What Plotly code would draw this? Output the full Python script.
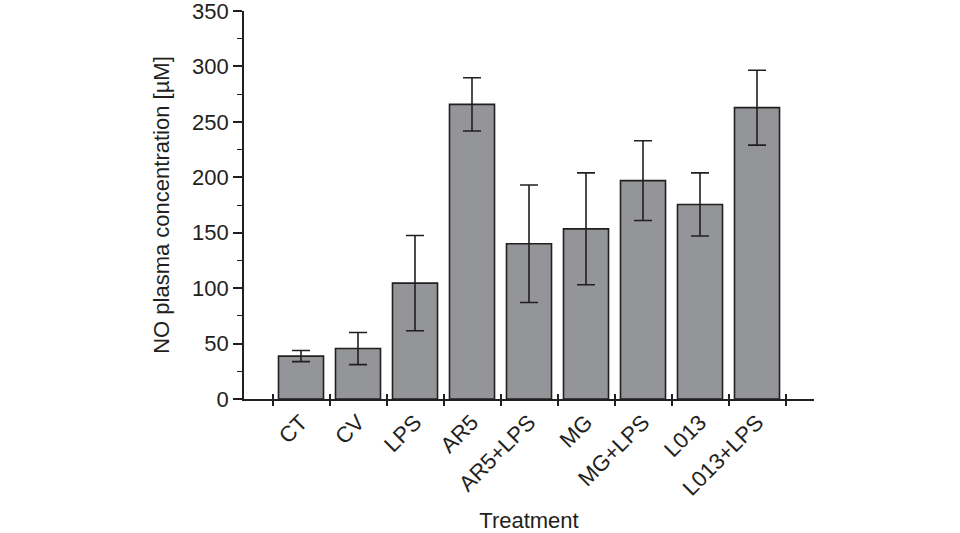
import plotly.graph_objects as go

categories = ["CT", "CV", "LPS", "AR5", "AR5+LPS", "MG", "MG+LPS", "L013", "L013+LPS"]
no_mean = [38.7, 45.5, 104.5, 265.8, 140.0, 153.5, 197.0, 175.5, 262.8]
no_err = [5.0, 14.5, 43.0, 24.0, 53.0, 50.5, 36.0, 28.5, 33.8]
y_ticks = [0, 50, 100, 150, 200, 250, 300, 350]

ink = "#231f20"
font = dict(family="Liberation Sans, Arial, sans-serif", size=22, color=ink)

fig = go.Figure()
fig.add_trace(go.Bar(
    x=categories, y=no_mean,
    marker=dict(color="#939598", line=dict(color=ink, width=1.6)),
    error_y=dict(type="data", array=no_err, visible=True, color=ink, thickness=1.6, width=9),
    showlegend=False,
))
# helper invisible trace for inward tick marks on the x axis
fig.add_trace(go.Scatter(x=[-1], y=[0], xaxis="x2", yaxis="y", mode="markers",
                         marker=dict(opacity=0), showlegend=False, hoverinfo="skip"))

fig.update_layout(
    width=960, height=533,
    margin=dict(l=244, r=146, t=11, b=134),
    paper_bgcolor="white", plot_bgcolor="white",
    font=font,
    bargap=0.21,
    xaxis=dict(
        type="category", categoryorder="array", categoryarray=categories,
        range=[-1, 9], tickson="boundaries", ticks="outside", ticklen=5,
        tickwidth=1.5, tickcolor=ink, showline=True, linecolor=ink, linewidth=1.6,
        tickangle=-45, showgrid=False, zeroline=False, automargin=False,
        title=dict(text="Treatment", standoff=20, font=font),
    ),
    xaxis2=dict(
        overlaying="x", anchor="y", range=[-1, 9],
        tickvals=[i - 0.5 for i in range(len(categories) + 1)],
        ticks="inside", ticklen=5, tickwidth=1.5, tickcolor=ink,
        showticklabels=False, showline=False, showgrid=False, zeroline=False,
        automargin=False,
    ),
    yaxis=dict(
        range=[0, 350], tickvals=y_ticks, ticks="outside", ticklen=9,
        tickwidth=1.5, tickcolor=ink, showline=True, linecolor=ink, linewidth=1.6,
        showgrid=False, zeroline=False, ticklabeloverflow="allow", automargin=False,
        minor=dict(dtick=25, ticks="outside", ticklen=5, tickwidth=1.2, tickcolor=ink),
        title=dict(text="NO plasma concentration [µM]", standoff=16, font=font),
    ),
)

fig.write_html("out.html", config={"displayModeBar": False},
               post_script="document.body.style.margin='0';")
